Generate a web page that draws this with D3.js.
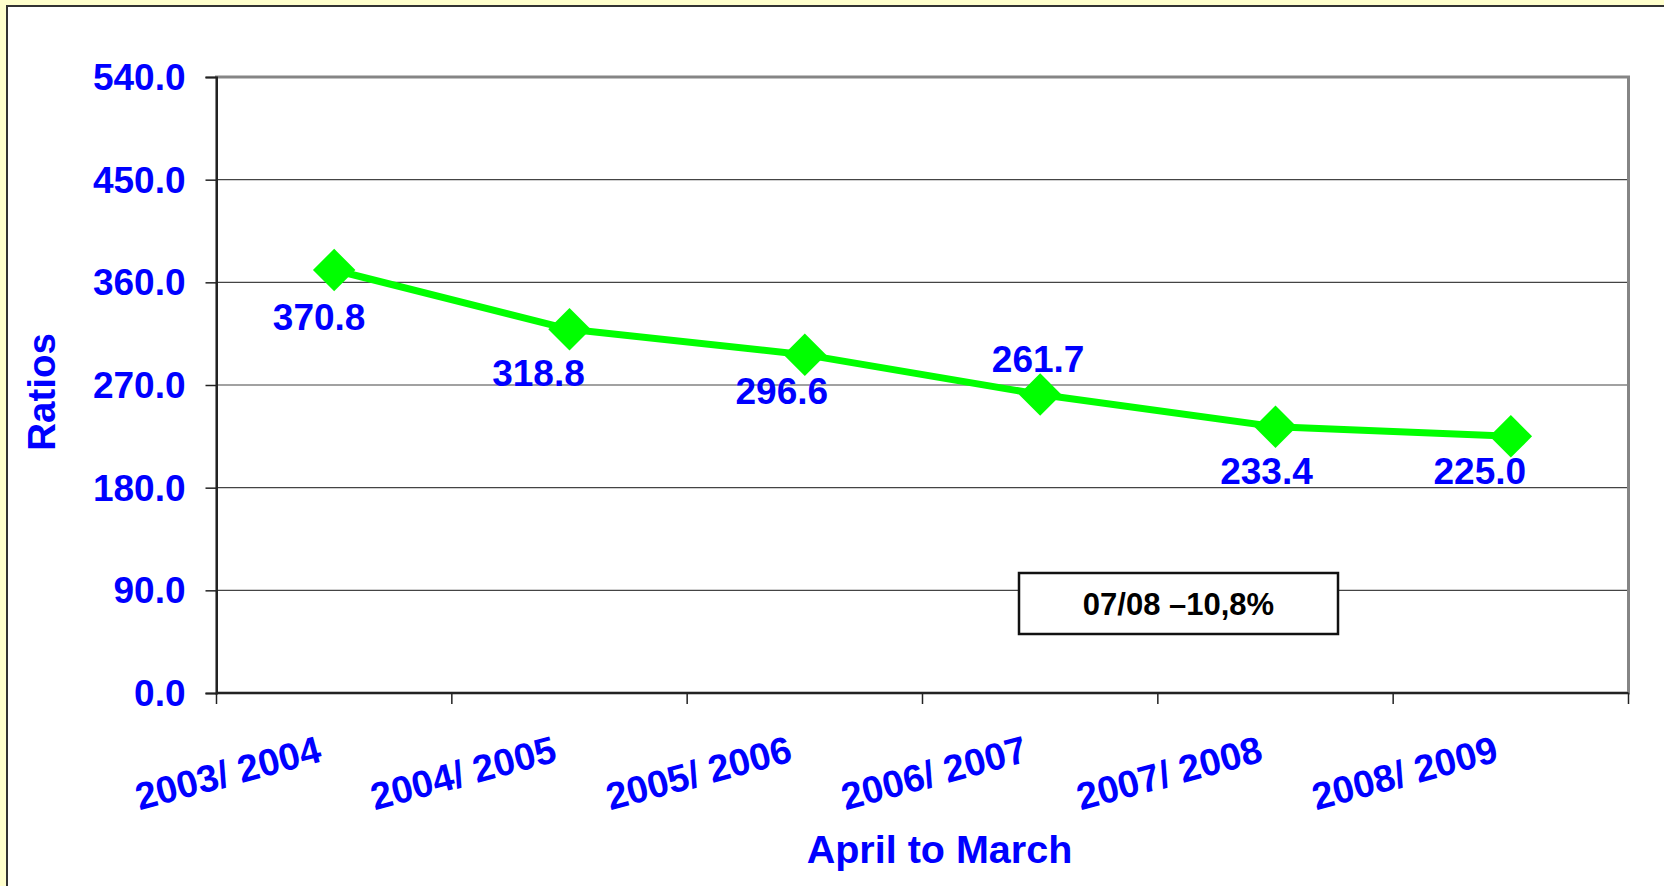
<!DOCTYPE html>
<html>
<head>
<meta charset="utf-8">
<script src="https://cdn.jsdelivr.net/npm/d3@7"></script>
<style>
  body { margin: 0; background: #ffffcc; overflow: hidden; }
  text { font-family: 'Liberation Sans', Arial, sans-serif; font-weight: bold; }
</style>
</head>
<body>
<div id="chart"></div>
<script>
document.addEventListener('DOMContentLoaded', init, false);

var width = 1664;
var height = 886;

var plot = { left: 216.5, right: 1628.5, top: 77, bottom: 693 };

// data
var seasons = ['2003/ 2004', '2004/ 2005', '2005/ 2006', '2006/ 2007', '2007/ 2008', '2008/ 2009'];
var ratios = [370.8, 318.8, 296.6, 261.7, 233.4, 225.0];
var yTicks = [0, 90, 180, 270, 360, 450, 540];
var note = '07/08 \u201310,8%';

// where excel put each value label, relative to its point
var labelOffsets = [[-15, 60], [-31, 57], [-23, 49], [-2, -22], [-9, 57], [-31, 48]];

var blue = '#0000ff';
var green = '#00ff00';

function init() {

  var svg = d3.select('#chart')
    .append('svg')
      .attr('width', width)
      .attr('height', height);

  // white panel, runs off the bottom/right of the window
  svg.append('rect')
    .attr('x', 7)
    .attr('y', 6)
    .attr('width', width + 20)
    .attr('height', height + 20)
    .attr('fill', '#ffffff')
    .attr('stroke', '#333333')
    .attr('stroke-width', 2);

  var x = d3.scaleBand()
    .domain(seasons)
    .range([plot.left, plot.right]);

  var y = d3.scaleLinear()
    .domain([0, 540])
    .range([plot.bottom, plot.top]);

  drawGrid(svg, x, y);
  drawAxes(svg, x, y);
  drawLine(svg, x, y);
  drawNote(svg, x, y);
}

function drawGrid(svg, x, y) {

  svg.append('g')
    .selectAll('line')
    .data(yTicks.slice(1, -1))
    .enter()
    .append('line')
      .attr('x1', plot.left)
      .attr('x2', plot.right)
      .attr('y1', function (d) { return y(d); })
      .attr('y2', function (d) { return y(d); })
      .attr('stroke', '#444444')
      .attr('stroke-width', 1.2);

  svg.append('rect')
    .attr('x', plot.left)
    .attr('y', plot.top)
    .attr('width', plot.right - plot.left)
    .attr('height', plot.bottom - plot.top)
    .attr('fill', 'none')
    .attr('stroke', '#858585')
    .attr('stroke-width', 3);
}

function drawAxes(svg, x, y) {

  var yAxis = svg.append('g')
    .attr('transform', 'translate(' + plot.left + ',0)')
    .call(d3.axisLeft(y)
      .tickValues(yTicks)
      .tickSize(11)
      .tickPadding(20)
      .tickFormat(d3.format('.1f')));

  yAxis.select('.domain').attr('stroke', '#222222').attr('stroke-width', 2);
  yAxis.selectAll('.tick line').attr('stroke', '#222222').attr('stroke-width', 1.5);
  yAxis.selectAll('.tick text')
    .attr('fill', blue)
    .attr('font-size', 37)
    .attr('dy', '0.34em')
    .attr('font-family', "'Liberation Sans', Arial, sans-serif")
    .attr('font-weight', 'bold');

  // bottom axis line and ticks on the band edges
  var edges = seasons.map(function (d) { return x(d); }).concat([x.range()[1]]);

  var xAxis = svg.append('g');

  xAxis.append('line')
    .attr('x1', plot.left)
    .attr('x2', plot.right)
    .attr('y1', plot.bottom)
    .attr('y2', plot.bottom)
    .attr('stroke', '#222222')
    .attr('stroke-width', 2);

  xAxis.selectAll('.edge')
    .data(edges)
    .enter()
    .append('line')
      .attr('x1', function (d) { return d; })
      .attr('x2', function (d) { return d; })
      .attr('y1', plot.bottom)
      .attr('y2', plot.bottom + 11)
      .attr('stroke', '#222222')
      .attr('stroke-width', 1.5);

  xAxis.selectAll('.label')
    .data(seasons)
    .enter()
    .append('text')
      .attr('transform', function (d) {
        return 'translate(' + (x(d) + x.bandwidth() / 2 - 11) + ',' + (plot.bottom + 68) + ') rotate(-15)';
      })
      .attr('text-anchor', 'end')
      .attr('fill', blue)
      .attr('font-size', 38)
      .text(function (d) { return d; });

  svg.append('text')
    .attr('x', (plot.left + plot.right) / 2 + 17)
    .attr('y', 863)
    .attr('text-anchor', 'middle')
    .attr('fill', blue)
    .attr('font-size', 39.5)
    .text('April to March');

  svg.append('text')
    .attr('transform', 'translate(55,392) rotate(-90)')
    .attr('text-anchor', 'middle')
    .attr('fill', blue)
    .attr('font-size', 38.5)
    .text('Ratios');
}

function drawLine(svg, x, y) {

  var cx = function (d, i) { return x(seasons[i]) + x.bandwidth() / 2; };

  var line = d3.line()
    .x(cx)
    .y(function (d) { return y(d); });

  svg.append('path')
    .datum(ratios)
    .attr('fill', 'none')
    .attr('stroke', green)
    .attr('stroke-width', 7)
    .attr('stroke-linejoin', 'round')
    .attr('d', line);

  svg.append('g')
    .selectAll('path')
    .data(ratios)
    .enter()
    .append('path')
      .attr('d', d3.symbol(d3.symbolDiamond2, 1150))
      .attr('transform', function (d, i) {
        return 'translate(' + cx(d, i) + ',' + y(d) + ')';
      })
      .attr('fill', green);

  svg.append('g')
    .selectAll('text')
    .data(ratios)
    .enter()
    .append('text')
      .attr('x', function (d, i) { return cx(d, i) + labelOffsets[i][0]; })
      .attr('y', function (d, i) { return y(d) + labelOffsets[i][1]; })
      .attr('text-anchor', 'middle')
      .attr('fill', blue)
      .attr('font-size', 37)
      .text(function (d) { return d.toFixed(1); });
}

function drawNote(svg, x, y) {

  var box = svg.append('g').attr('transform', 'translate(1019,573)');

  box.append('rect')
    .attr('width', 319)
    .attr('height', 61)
    .attr('fill', '#ffffff')
    .attr('stroke', '#111111')
    .attr('stroke-width', 2.5);

  box.append('text')
    .attr('x', 159.5)
    .attr('y', 42)
    .attr('text-anchor', 'middle')
    .attr('fill', '#000000')
    .attr('font-size', 31)
    .text(note);
}
</script>
</body>
</html>
